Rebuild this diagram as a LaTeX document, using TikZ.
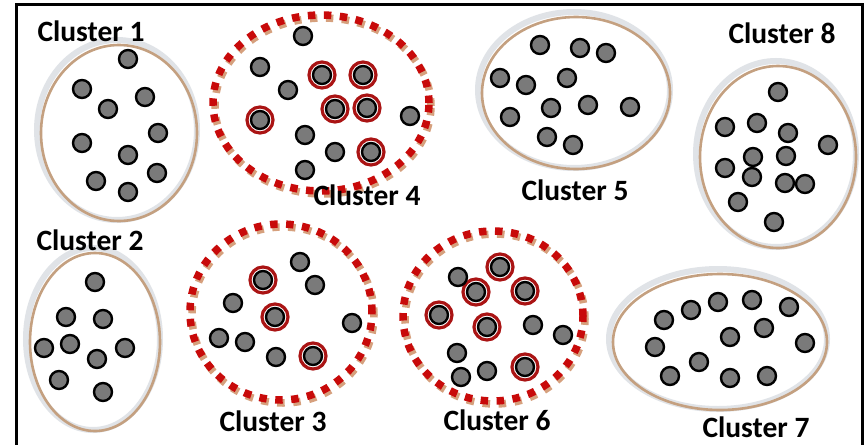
\documentclass[tikz,border=0pt]{standalone}
\usepackage{fontspec}
\setmainfont{Carlito}
\definecolor{dotgray}{RGB}{122,122,122}
\definecolor{ringtan}{RGB}{196,160,128}
\definecolor{ringgray}{RGB}{224,227,231}
\definecolor{hitred}{RGB}{170,20,20}
\definecolor{dashred}{RGB}{200,10,10}
\definecolor{dashtan}{RGB}{214,160,125}
\tikzset{
  dot/.style={circle, draw=black, fill=dotgray, line width=2.4pt, minimum size=18pt, inner sep=0pt},
  hit/.style={circle, draw=hitred, line width=3.2pt, minimum size=26pt, inner sep=0pt},
  lbl/.style={font=\fontsize{29.5}{32}\selectfont\bfseries, inner sep=0pt},
  outerring/.style={draw=ringgray, line width=6pt},
  innerring/.style={draw=ringtan, line width=2.6pt},
  dashshadow/.style={draw=dashtan, line width=7.5pt, dash pattern=on 7.5pt off 8.5pt},
  dashring/.style={draw=dashred, line width=7.5pt, dash pattern=on 7.5pt off 8.5pt},
  frame/.style={draw=black, line width=3pt}
}
\begin{document}
\begin{tikzpicture}[x=1pt,y=-1pt]
\useasboundingbox (0,0) rectangle (866,444);
\clip (0,0) rectangle (866,444);
\fill[white] (0,0) rectangle (866,444);
\draw[frame] (16,460) -- (16,5) -- (862,5) -- (862,460);

% solid clusters: 1,2,5,7,8
\foreach \cx/\cy/\rx/\ry in {119/133/78/88, 95/342/65/89, 576/93/94/76, 720/342/107/68, 778/157/78/91}{
  \path[outerring] (\cx-2,\cy-3) ellipse [x radius=\rx pt+2pt, y radius=\ry pt+2pt];
  \path[innerring] (\cx,\cy) ellipse [x radius=\rx pt, y radius=\ry pt];
}
% dashed clusters: 4,3,6
\foreach \cx/\cy/\rx/\ry in {321/103/108/88, 281/312/91/88, 493/316/90/85}{
  \path[dashshadow] (\cx+2,\cy+3) ellipse [x radius=\rx pt, y radius=\ry pt];
  \path[dashring] (\cx,\cy) ellipse [x radius=\rx pt, y radius=\ry pt];
}

% highlighted points (red rings)
\foreach \x/\y [count=\i] in {322/75, 363/75, 335/109, 367/108, 260/120, 371/152}
  \node[hit] (h4-\i) at (\x,\y) {};
\foreach \x/\y [count=\i] in {263/280, 275/317, 313/356}
  \node[hit] (h3-\i) at (\x,\y) {};
\foreach \x/\y [count=\i] in {500/267, 476/292, 525/291, 439/315, 487/327, 525/367}
  \node[hit] (h6-\i) at (\x,\y) {};

% points
\foreach \x/\y [count=\i] in {128/59, 82/89, 145/97, 108/109, 158/133, 82/143, 128/155, 157/173, 96/181, 128/192}
  \node[dot] (c1-\i) at (\x,\y) {};
\foreach \x/\y [count=\i] in {95/282, 66/317, 103/319, 44/348, 70/344, 125/348, 97/359, 59/380, 103/392}
  \node[dot] (c2-\i) at (\x,\y) {};
\foreach \x/\y [count=\i] in {300/262, 263/280, 315/285, 233/303, 275/317, 352/323, 219/338, 245/342, 276/357, 313/356}
  \node[dot] (c3-\i) at (\x,\y) {};
\foreach \x/\y [count=\i] in {303/36, 260/67, 288/90, 322/75, 363/75, 335/109, 367/108, 410/116, 260/120, 305/135, 335/152, 371/152, 305/170}
  \node[dot] (c4-\i) at (\x,\y) {};
\foreach \x/\y [count=\i] in {540/45, 580/48, 606/53, 500/78, 526/85, 567/78, 510/117, 551/108, 588/105, 630/107, 547/137, 573/145}
  \node[dot] (c5-\i) at (\x,\y) {};
\foreach \x/\y [count=\i] in {500/267, 458/277, 476/292, 525/291, 439/315, 487/327, 533/325, 563/335, 457/353, 487/371, 461/377, 525/367}
  \node[dot] (c6-\i) at (\x,\y) {};
\foreach \x/\y [count=\i] in {664/320, 691/310, 718/302, 752/300, 789/307, 655/347, 730/337, 764/328, 805/343, 699/362, 670/376, 730/378, 767/376}
  \node[dot] (c7-\i) at (\x,\y) {};
\foreach \x/\y [count=\i] in {778/92, 725/127, 757/123, 788/133, 828/145, 753/157, 786/156, 725/168, 752/177, 785/183, 805/184, 738/202, 774/222}
  \node[dot] (c8-\i) at (\x,\y) {};

% labels
\node[lbl] (l1) at (91,31) {Cluster 1};
\node[lbl] (l2) at (90,240) {Cluster 2};
\node[lbl] (l3) at (273,421) {Cluster 3};
\node[lbl] (l4) at (367,195) {Cluster 4};
\node[lbl] (l5) at (575,190) {Cluster 5};
\node[lbl] (l6) at (497,420) {Cluster 6};
\node[lbl] (l7) at (756,427) {Cluster 7};
\node[lbl] (l8) at (782,33) {Cluster 8};
\end{tikzpicture}
\end{document}
